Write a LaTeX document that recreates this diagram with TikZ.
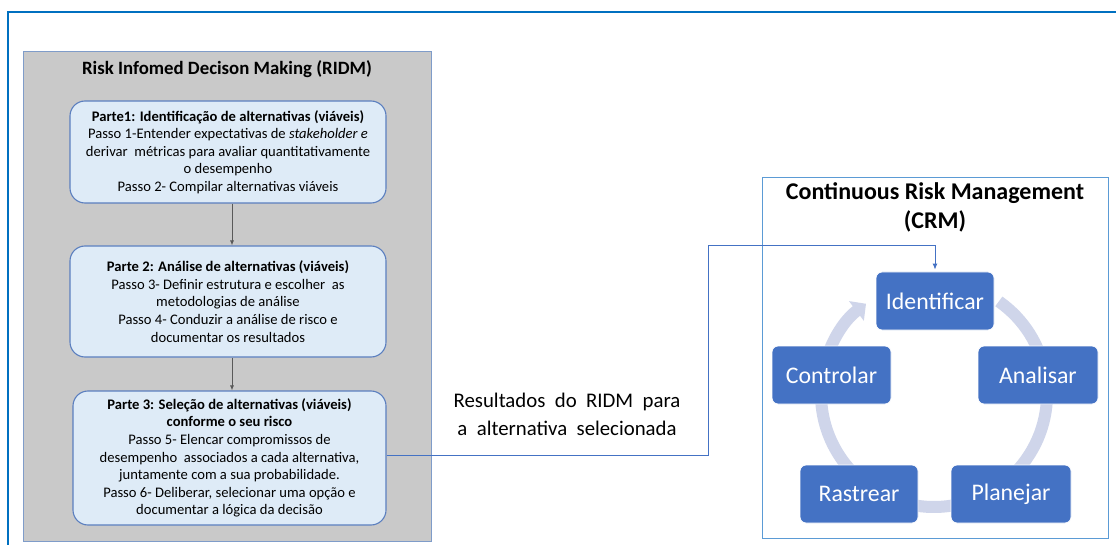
\documentclass[tikz,border=0pt]{standalone}
\usepackage{fontspec}
\setmainfont{Carlito}
\usetikzlibrary{arrows.meta}
\definecolor{frameblue}{HTML}{0070C0}
\definecolor{panelgray}{HTML}{C9C9C9}
\definecolor{paneledge}{HTML}{7F9CC9}
\definecolor{stepfill}{HTML}{DEEBF7}
\definecolor{stepedge}{HTML}{5B7FBF}
\definecolor{crmblue}{HTML}{4472C4}
\definecolor{crmedge}{HTML}{5B9BD5}
\definecolor{ringcol}{HTML}{CFD5EA}
\tikzset{
  stepbox/.style={draw=stepedge, line width=1.1pt, fill=stepfill, rounded corners=15pt,
    minimum width=316pt, align=center, inner sep=0pt,
    font=\fontsize{14.6}{17.6}\selectfont},
  crmbox/.style={draw=white, line width=0.8pt, fill=crmblue, rounded corners=6pt,
    minimum width=118pt, minimum height=58pt, inner sep=0pt, text=white,
    font=\fontsize{23.8}{28}\selectfont},
  flow/.style={draw=black!65, line width=0.8pt, -{Latex[length=5pt,width=4pt]}},
  link/.style={draw=crmblue, line width=0.9pt, -{Latex[length=6pt,width=5pt]}},
  ring/.style={draw=ringcol, line width=12pt}
}
\begin{document}
\begin{tikzpicture}[x=1pt,y=-1pt]
\useasboundingbox (0,0) rectangle (1116,545);
\fill[white] (0,0) rectangle (1116,545);
% outer frame (top and left edges)
\draw[frameblue, line width=1.4pt] (1116,12) -- (8,12) -- (8,545);

% RIDM panel
\draw[fill=panelgray, draw=paneledge, line width=0.8pt] (23,51) rectangle (431,541);
\node[font=\fontsize{18.8}{22}\bfseries] (ridmtitle) at (227,69) {Risk Infomed Decison Making (RIDM)};

\node[stepbox, minimum height=102pt] (p1) at (228,152) {\textbf{Parte1: Identificação de alternativas (viáveis)}\\
Passo 1-Entender expectativas de \textit{stakeholder e}\\
derivar\ \ métricas para avaliar quantitativamente\\
o desempenho\\
Passo 2- Compilar alternativas viáveis};

\node[stepbox, minimum height=111pt] (p2) at (228,301.5) {\textbf{Parte 2: Análise de alternativas (viáveis)}\\
Passo 3- Definir estrutura e escolher\ \ as\\
metodologias de análise\\
Passo 4- Conduzir a análise de risco e\\
documentar os resultados};

\node[stepbox, minimum width=313pt, minimum height=134pt] (p3) at (229.5,458) {\textbf{Parte 3: Seleção de alternativas (viáveis)}\\
\textbf{conforme o seu risco}\\
Passo 5- Elencar compromissos de\\
desempenho\ \ associados a cada alternativa,\\
juntamente com a sua probabilidade.\\
Passo 6- Deliberar, selecionar uma opção e\\
documentar a lógica da decisão};

\draw[flow] (p1.south -| 232,0) -- (p2.north -| 232,0);
\draw[flow] (p2.south -| 232,0) -- (p3.north -| 232,0);

% CRM panel
\draw[draw=crmedge, line width=0.9pt] (762,177) rectangle (1108,538);
\node[font=\fontsize{24}{29}\bfseries, align=center] (crmtitle) at (935,207) {Continuous Risk Management\\(CRM)};

% cycle ring
\coordinate (cc) at (934,394);
\draw[ring, -{Triangle[length=12pt 0 0, width=24pt 0 0]}] (cc) ++(-55:113) arc[start angle=-55, end angle=233, radius=113];

\node[crmbox] (ident) at (935,301) {Identificar};
\node[crmbox, minimum width=120pt] (anal) at (1038,375) {Analisar};
\node[crmbox, minimum width=120pt] (plan) at (1011,494) {Planejar};
\node[crmbox] (rast) at (859,494) {Rastrear};
\node[crmbox, minimum width=119pt] (ctrl) at (831.5,375) {Controlar};

% RIDM output feeding CRM
\coordinate (bend) at (708,245);
\draw[link, shorten >=2pt] (p3.east |- 0,455) -| (bend) -| (ident.north);
\node[font=\fontsize{20.8}{28}\selectfont, align=center, inner sep=0pt] (result) at (567,414)
  {Resultados\ \ do\ \ RIDM\ \ para\\a\ \ alternativa\ \ selecionada};
\end{tikzpicture}
\end{document}
